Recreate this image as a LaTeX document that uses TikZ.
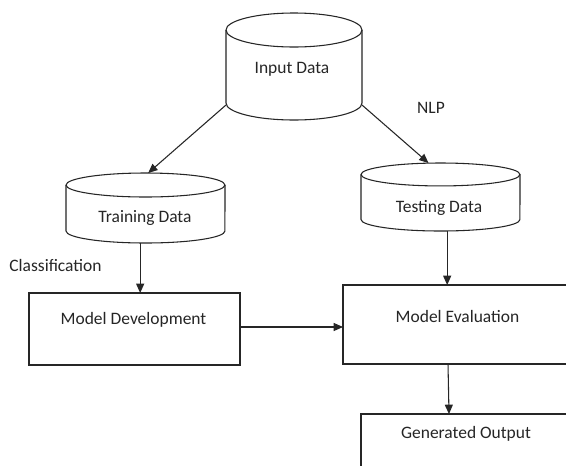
\documentclass[tikz,border=0pt]{standalone}
\usepackage{fontspec}
\setmainfont{Carlito}
\usetikzlibrary{arrows.meta,calc}
\newcommand\drawcyl[3]{%
  \draw[line] ([yshift=-#3]#1.north west) arc[start angle=180,end angle=-180,x radius=#2,y radius=#3];
  \draw[line] ([yshift=-#3]#1.north west) -- ([yshift=#3]#1.south west)
     arc[start angle=180,end angle=360,x radius=#2,y radius=#3] -- ([yshift=-#3]#1.north east);
}
\begin{document}
\begin{tikzpicture}[x=0.75pt,y=-0.75pt,
  line/.style={draw=black!85,line width=0.8pt},
  arr/.style={line,-{Triangle[length=7pt,width=6pt]}},
  area/.style={rectangle,inner sep=0pt,outer sep=0pt},
  boxnode/.style={area,line},
  txt/.style={inner sep=0pt,anchor=base,font=\fontsize{13.1}{15}\selectfont,text=black!85}]
\useasboundingbox (0,0) rectangle (566,465);
\clip (0,0) rectangle (566,465);
\fill[white] (0,0) rectangle (566,465);
% cylinders
\node[area,minimum width=102pt,minimum height=80.25pt] (in) at (294,66.5) {};
\node[area,minimum width=119.25pt,minimum height=52.5pt] (tr) at (145.5,208) {};
\node[area,minimum width=119.25pt,minimum height=51pt] (te) at (440.5,197) {};
\drawcyl{in}{51pt}{12.75pt}
\drawcyl{tr}{59.6pt}{9pt}
\drawcyl{te}{59.6pt}{8.6pt}
% boxes
\node[boxnode,minimum width=158.25pt,minimum height=54pt] (md) at (134.5,329) {};
\node[boxnode,minimum width=192.75pt,minimum height=59.25pt] (me) at (471.5,324.5) {};
\node[boxnode,minimum width=179.25pt,minimum height=57pt] (go) at (480.5,452) {};
% texts
\node[txt] (inT) at (292,73) {Input Data};
\node[txt] (nlp) at (431,113) {NLP};
\node[txt] (trT) at (145,222) {Training Data};
\node[txt] (teT) at (439,212) {Testing Data};
\node[txt] (cls) at (55.5,271) {Classification};
\node[txt] (mdT) at (133.5,324) {Model Development};
\node[txt] (meT) at (457.5,322) {Model Evaluation};
\node[txt] (goT) at (466,438) {Generated Output};
% connectors
\draw[arr] ([yshift=11.25pt]in.south west) -- ([xshift=2pt]tr.north);
\draw[arr] ([yshift=11.25pt]in.south east) -- ([xshift=-9pt]te.north);
\draw[arr] ([xshift=-4pt]tr.south) -- ([xshift=-4pt]tr.south |- md.north);
\draw[arr] ($(md.east)+(0,-2)$) -- ($(md.east -| me.west)+(0,-2)$);
\draw[arr] ([xshift=5pt]te.south) -- ([xshift=5pt]te.south |- me.north);
\draw[arr] ($(me.south west)+(105,0)$) -- ($(me.south west |- go.north)+(106,0)$);
\end{tikzpicture}
\end{document}
